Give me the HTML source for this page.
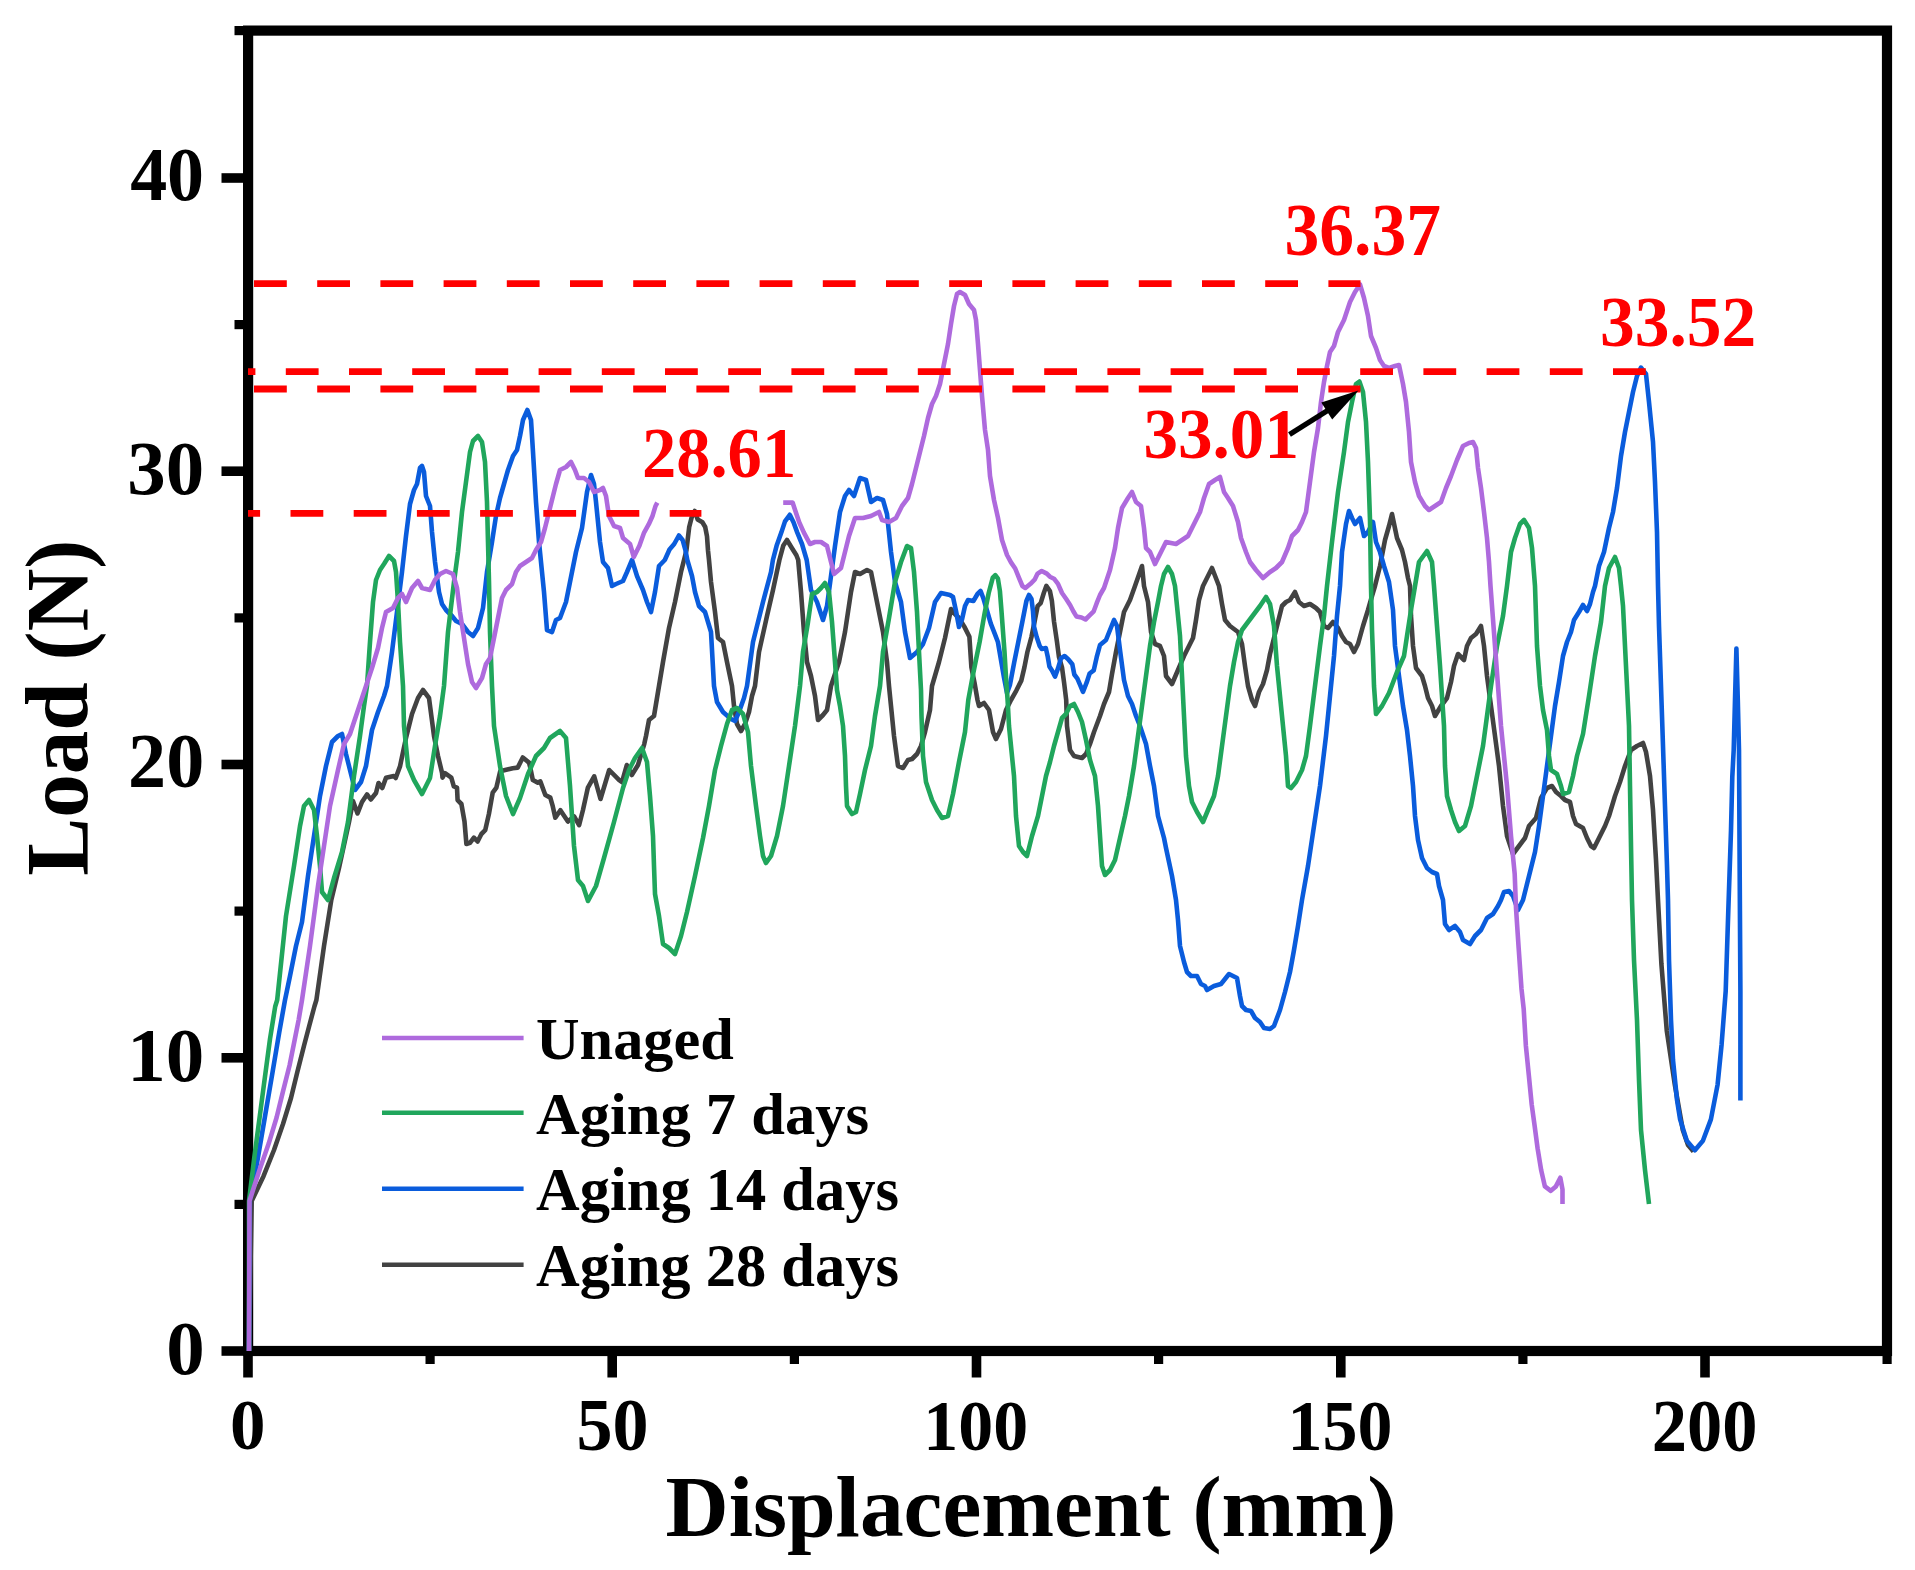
<!DOCTYPE html><html><head><meta charset="utf-8"><style>html,body{margin:0;padding:0;background:#fff;overflow:hidden}svg{display:block}</style></head><body><svg width="1915" height="1570" viewBox="0 0 1915 1570">
<rect width="100%" height="100%" fill="#fff"/>
<defs><clipPath id="pc"><rect x="248" y="30" width="1639" height="1321"/></clipPath></defs>
<rect x="248.1" y="30.6" width="1638.9" height="1320.4" fill="none" stroke="#000" stroke-width="10.2"/><line x1="221.5" y1="1351.0" x2="248" y2="1351.0" stroke="#000" stroke-width="9.6"/><line x1="234.5" y1="1204.4" x2="248" y2="1204.4" stroke="#000" stroke-width="9.2"/><line x1="221.5" y1="1057.8" x2="248" y2="1057.8" stroke="#000" stroke-width="9.6"/><line x1="234.5" y1="911.1" x2="248" y2="911.1" stroke="#000" stroke-width="9.2"/><line x1="221.5" y1="764.5" x2="248" y2="764.5" stroke="#000" stroke-width="9.6"/><line x1="234.5" y1="617.9" x2="248" y2="617.9" stroke="#000" stroke-width="9.2"/><line x1="221.5" y1="471.2" x2="248" y2="471.2" stroke="#000" stroke-width="9.6"/><line x1="234.5" y1="324.6" x2="248" y2="324.6" stroke="#000" stroke-width="9.2"/><line x1="221.5" y1="178.0" x2="248" y2="178.0" stroke="#000" stroke-width="9.6"/><line x1="234.5" y1="30.6" x2="248" y2="30.6" stroke="#000" stroke-width="9.2"/><line x1="248.0" y1="1351" x2="248.0" y2="1377.5" stroke="#000" stroke-width="9.6"/><line x1="430.1" y1="1351" x2="430.1" y2="1364" stroke="#000" stroke-width="9.2"/><line x1="612.2" y1="1351" x2="612.2" y2="1377.5" stroke="#000" stroke-width="9.6"/><line x1="794.4" y1="1351" x2="794.4" y2="1364" stroke="#000" stroke-width="9.2"/><line x1="976.5" y1="1351" x2="976.5" y2="1377.5" stroke="#000" stroke-width="9.6"/><line x1="1158.6" y1="1351" x2="1158.6" y2="1364" stroke="#000" stroke-width="9.2"/><line x1="1340.8" y1="1351" x2="1340.8" y2="1377.5" stroke="#000" stroke-width="9.6"/><line x1="1522.9" y1="1351" x2="1522.9" y2="1364" stroke="#000" stroke-width="9.2"/><line x1="1705.0" y1="1351" x2="1705.0" y2="1377.5" stroke="#000" stroke-width="9.6"/><line x1="1887.1" y1="1351" x2="1887.1" y2="1364" stroke="#000" stroke-width="9.2"/>
<path d="M249 1351 L251.7 1201 L263.5 1176.2 L274 1150 L283 1124 L291 1098 L297.4 1071.8 L304 1045.7 L309.2 1026 L314.4 1006.5 L316.4 1000 L324 946 L331.3 900 L339 868 L349 822 L353 801 L357.5 813.5 L362 802 L367 794.4 L370.8 799.5 L376 793 L378.5 783 L382.3 788 L386 777.8 L393.8 776 L395.7 778 L400 766.4 L406 738 L412 714 L418 698 L423 690 L429 698 L434 736 L438 756 L442 772.6 L442.5 777.6 L445 773.2 L451.3 777.6 L453.8 786.4 L457 787.6 L457.6 800.2 L461.4 804 L464.5 821.5 L466.4 844 L470 842.8 L473.9 837.7 L477.6 841.5 L481.4 834 L485.2 830.2 L488.9 814 L492.7 792.6 L496.4 787.6 L500.2 771.3 L505.2 770 L512.7 768.2 L517.7 767.6 L522.8 757.5 L529 762.6 L530.3 767.6 L532.8 780 L537.8 782.6 L540.3 781.4 L545.3 795 L550.3 797.6 L552.8 806.4 L555.3 817.7 L560.4 810.2 L567.9 821.5 L574.1 816.4 L579.1 825.2 L582.9 810.2 L587.9 787.6 L594.2 776.3 L600.5 799 L609.2 770 L619.2 780.1 L622 782 L626.8 765 L631.8 775 L638 765 L644.3 743.8 L646 736 L649 720 L654 716 L657 698 L659 686 L663 662 L669 628 L675 602 L681 572 L686.4 550.5 L689.2 527 L691.6 517.6 L694.8 511 L697.7 519.5 L702.4 522.3 L705.2 527 L707 536.4 L708 550.5 L709 560 L711 582 L715 612 L718 638 L723 642 L727 662 L732 686 L734 706 L737 724 L741 731 L745 724 L749 712 L752 696 L755 686 L759 652 L767 616 L773 590 L779.4 560 L783.2 545.8 L787 540 L791.7 547.7 L796.4 555.2 L798.2 560 L801 592 L804 632 L807 662 L811 676 L813 686 L815 696 L818 720 L823 715 L827 710 L831 686 L839 662 L845 632 L851 592 L855 572 L860 574 L867 570 L871 572 L875 592 L879 612 L883 632 L887 662 L889 686 L891 706 L894 736 L898 766 L903 768 L908 760 L912 759 L917 754 L921 746 L925 732 L930 710 L932 686 L939 662 L945 638 L951 609 L953 612 L959 618 L964.3 626.6 L969.4 636.8 L970.4 652 L971.4 667.4 L974.5 682.7 L977.5 700 L979 706 L984 703 L989 710 L993 732 L996 739 L1001 729 L1006 710 L1011 700 L1016.2 690.8 L1021.3 680.6 L1024.4 667.4 L1027.4 652 L1031.5 636.8 L1034.6 621.5 L1037.6 606.2 L1040.7 603.2 L1043.8 593 L1046.3 585.9 L1049.9 591 L1051.9 601 L1054 621.5 L1057 642 L1059 657.2 L1062 667.4 L1064.1 682.7 L1066.2 700 L1067 726 L1070 750 L1074 756 L1082 758 L1086 754 L1090 744 L1094 732 L1100 716 L1104 704 L1109 692 L1112 674 L1116 652 L1120 632 L1124 612 L1130 600 L1135 586 L1142 566 L1144 586 L1148 602 L1151 632 L1155 644 L1160 646 L1164 656 L1166 676 L1172 684 L1178 670 L1184 656 L1188 648 L1193 638 L1196 620 L1199 600 L1203 586 L1212 568 L1219 586 L1222 604 L1225 620 L1230 626 L1238 632 L1242 644 L1245 666 L1248 686 L1252 700 L1255 706 L1259 692 L1263 684 L1267 670 L1270 654 L1274 638 L1278 622 L1282 606 L1286 602 L1290 600 L1295 592 L1299 602 L1304 606 L1310 604 L1316 608 L1320 612 L1324 626 L1328 628 L1333 622 L1338 628 L1342 636 L1346 642 L1350 644 L1354 652 L1358 644 L1363 626 L1368 610 L1372 596 L1375 586 L1380 566 L1385 540 L1389 526 L1392 514 L1397 538 L1402 550 L1405 562 L1408 578 L1410 586 L1411 616 L1413 646 L1416 668 L1422 676 L1425 686 L1428 698 L1432 706 L1435 716 L1441 706 L1447 698 L1451 682 L1454 666 L1458 654 L1464 660 L1467 646 L1471 638 L1476 634 L1481 626 L1484 646 L1487 676 L1491 706 L1495 736 L1499 766 L1503 806 L1507 836 L1513 854 L1519 846 L1525 838 L1529 826 L1536 818 L1541 798 L1547 788 L1552 786 L1556 792 L1561 796 L1565 800 L1570 802 L1573 816 L1576 824 L1583 828 L1587 838 L1591 846 L1594 848 L1599 838 L1605 826 L1609 816 L1615 796 L1620 782 L1625 766 L1631 750 L1637 746 L1643 743 L1646 752 L1650 776 L1653 810 L1656 860 L1658 900 L1661.4 964 L1666.8 1031 L1674.8 1084.6 L1682.8 1130 L1688 1145 L1693.5 1151.5" fill="none" stroke="#424242" stroke-width="4.6" stroke-linejoin="round" stroke-linecap="butt"/><path d="M249 1351 L249.8 1199.7 L257 1163 L264.8 1117.5 L272.6 1071.8 L279.2 1032.6 L285 1000 L290 976 L296 946 L302 922 L308 876 L314 836 L320 796 L326 766 L332 742 L338 736 L342 734 L346 754 L350 770 L355 790 L361 782 L366 766 L372 730 L378 712 L384 696 L387 686 L392 652 L397 612 L402 572 L406 536 L410 504 L414 490 L417 484 L420 468 L422 466 L424 472 L426 496 L430 506 L432 532 L435 562 L439 592 L442 604 L446 610 L452 616 L456 621 L462 624 L468 632 L473 636 L478 628 L483 608 L487 572 L492 542 L496 516 L500 498 L504 484 L508 470 L513 456 L517 450 L520 436 L523 420 L527.4 410 L531 420 L533 452 L536 502 L539 542 L541 562 L544 592 L547 630 L552 632 L556 620 L560 618 L566 602 L570 582 L576 552 L582 528 L587 492 L591 475 L594 484 L596 502 L600 542 L603 562 L608 568 L612 586 L616 584 L623 581 L627 572 L632 560 L637 576 L643 590 L647 602 L651 612 L655 592 L659 566 L664.8 560 L669.5 549.5 L674.2 544 L678.9 535.5 L682.6 540 L685.5 550.5 L687.3 560 L692 576 L695 592 L699 606 L705 612 L711 632 L714 686 L717 702 L723 712 L731 719 L735 721 L739 712 L744 698 L747 686 L753 642 L763 602 L771 572 L772.9 560 L776.6 545.8 L781.3 532.6 L785 521.4 L789.8 514.8 L793.5 522.3 L797.3 532.6 L802 544 L806.7 560 L811 590 L817 602 L823 620 L827 606 L831 576 L835 546 L840 512 L845 496 L849 490 L854 496 L860 478 L866 480 L871 502 L877 498 L883 500 L887 514 L891 552 L895 582 L901 602 L905 632 L910 658 L917 652 L923 644 L929 628 L935 602 L941 593 L950 595 L953 597 L956 611 L959 627 L962 619.5 L965 606 L968 600 L973.4 601 L977.5 594 L980.6 591 L983.6 599 L987.7 613 L990.8 623.6 L994.8 633.8 L997.9 642 L1001 660 L1004 677.6 L1007 693 L1010 684.7 L1014.2 662.3 L1018.3 642 L1022.4 621.5 L1026.4 601 L1029 595 L1031.5 599 L1033 611.3 L1034 626.6 L1036.6 636.8 L1039.7 646 L1041.7 649 L1045.8 648 L1047.8 657 L1049.4 666.4 L1052 670.4 L1055 676.6 L1058 668.4 L1061 658.2 L1064.6 656 L1068.2 659.2 L1072.3 664.3 L1074.3 674.5 L1077.4 678.6 L1080.4 685.7 L1083 691.8 L1086.6 682.7 L1089.6 673.5 L1093.7 670.4 L1096.7 657.2 L1100 645 L1106 640 L1110 630 L1114 620 L1117 626 L1120 650 L1124 680 L1128 696 L1132 704 L1136 716 L1140 726 L1146 744 L1150 766 L1154 786 L1158 816 L1164 838 L1166 848 L1172 876 L1176 900 L1178 920 L1180 946 L1184 962 L1187 972 L1191 976 L1197 976 L1201 984 L1205 986 L1207 990 L1214 986 L1221 984 L1229 974 L1237 978 L1240 996 L1242 1006 L1246 1010 L1251 1011 L1255 1018 L1260 1022 L1264 1028 L1270 1029 L1274 1026 L1280 1010 L1285 992 L1290 972 L1294 950 L1298 926 L1302 900 L1308 866 L1314 826 L1320 786 L1326 736 L1330 696 L1334 656 L1337 616 L1340 586 L1342 552 L1346 524 L1349 511 L1352 518 L1355 524 L1360 518 L1364 536 L1368 532 L1373 522 L1376 542 L1380 552 L1384 566 L1389 582 L1393 610 L1395 646 L1399 676 L1403 706 L1407 730 L1410 756 L1413 786 L1415 816 L1418 840 L1422 858 L1427 868 L1432 872 L1437 874 L1439 886 L1443 900 L1445 924 L1449 930 L1455 926 L1460 932 L1463 940 L1470 944 L1475 936 L1481 930 L1487 918 L1493 914 L1498 906 L1501 900 L1504 892 L1509 891 L1513 896 L1518 910 L1523 900 L1529 876 L1535 852 L1539 826 L1543 796 L1547 766 L1551 736 L1555 706 L1559 682 L1563 656 L1567 642 L1571 632 L1574 620 L1579 612 L1583 605 L1587 611 L1590 604 L1593 592 L1595 586 L1599 566 L1604 552 L1609 528 L1613 512 L1617 488 L1621 456 L1625 432 L1629 412 L1633 392 L1637 376 L1641 367.6 L1646 374 L1649 402 L1653 442 L1655 482 L1657 532 L1658 586 L1659 626 L1661 686 L1663 746 L1665 806 L1667 866 L1668 900 L1669 960 L1671 1020 L1673 1060 L1677 1100 L1680.1 1119.4 L1686.8 1140.8 L1694.9 1150.2 L1702.9 1140.8 L1710.9 1119.4 L1717.6 1084.6 L1721.6 1044.4 L1725.7 991 L1728.3 910.6 L1731 830.3 L1732.3 776.8 L1733.7 750 L1735 700 L1736.4 648.5 L1737.8 700 L1739 750 L1739.6 857 L1740.4 991 L1740.4 1100.6" fill="none" stroke="#0a5cdc" stroke-width="4.6" stroke-linejoin="round" stroke-linecap="butt"/><path d="M249 1351 L249 1201 L254.4 1156.7 L259.6 1117.5 L264.8 1078 L270 1039 L275.2 1006.5 L277.2 1000 L286 916 L294 866 L300 826 L304 806 L309 800 L314 810 L317 836 L320 866 L322 892 L328 900 L334 878 L342 852 L348 822 L354 776 L360 736 L364 706 L367 686 L370 642 L373 602 L376 580 L380 570 L384 564 L389 556 L394 561 L396 572 L398 602 L400 642 L403 686 L404 726 L408 766 L414 780 L422 794 L430 778 L435 746 L440 716 L444 686 L448 632 L454 582 L458 552 L462 512 L466 482 L470 452 L473 441 L478 436 L482 442 L485 462 L487 502 L488 542 L489 582 L490 632 L492 686 L494 726 L500 766 L506 796 L513 814 L520 798 L528 774 L536 756 L544 748 L550 738 L560 731 L566 738 L570 786 L574 846 L578 880 L583 886 L588 901 L596 886 L604 858 L614 822 L623 788 L629 770 L635 758 L642 748 L647 762 L650 796 L653 836 L654 866 L655 894 L659 916 L663 944 L669 948 L675 954 L681 936 L687 912 L695 876 L703 838 L709 806 L715 770 L721 746 L727 724 L732 710 L737 708 L743 714 L748 732 L751 766 L756 806 L760 836 L763 856 L766 863 L771 856 L777 836 L783 806 L789 766 L795 726 L800 686 L803 652 L808 622 L812 594 L817 592 L821 588 L825 583 L829 592 L832 622 L835 662 L837 690 L840 706 L843 726 L845 756 L846 786 L847 806 L852 814 L856 812 L860 794 L865 770 L871 746 L875 716 L880 686 L883 652 L889 618 L895 582 L901 562 L907 546 L911 548 L914 572 L917 612 L919 652 L921 690 L921.5 716 L923 756 L926 782 L932 800 L937 810 L942 818 L948 816 L953 794 L959 762 L965 732 L968.3 700 L973.4 672.5 L979.6 642 L984.6 613.4 L988.7 593 L992.8 577.7 L995.3 575.2 L997.9 578.7 L999.9 591 L1001.5 611.3 L1003 631.7 L1004.5 652 L1006 677.6 L1007.6 700 L1009 726 L1011 746 L1014 776 L1016 816 L1019 846 L1023 852 L1027 856 L1032 836 L1038 816 L1042 796 L1046 776 L1050 762 L1054 746 L1058 732 L1062 718 L1066 714 L1070 706 L1074 704 L1078 712 L1082 722 L1086 740 L1090 760 L1095 776 L1098 806 L1100 836 L1102 866 L1105 875 L1110 870 L1115 860 L1120 838 L1125 816 L1129 796 L1134 766 L1138 736 L1142 706 L1146 676 L1150 646 L1154 622 L1158 602 L1161 586 L1164 574 L1168 567 L1172 574 L1175 586 L1177 606 L1180 636 L1182 676 L1184 716 L1186 756 L1189 786 L1192 802 L1197 812 L1203 822 L1208 810 L1214 796 L1218 776 L1222 746 L1226 716 L1230 686 L1234 662 L1238 642 L1242 630 L1248 622 L1254 614 L1260 606 L1266 597 L1270 604 L1274 626 L1277 666 L1280 696 L1283 726 L1286 756 L1288 786 L1291 788 L1296 782 L1302 770 L1306 756 L1310 726 L1315 686 L1320 646 L1324 616 L1327 586 L1332 542 L1338 492 L1344 452 L1348 422 L1352 402 L1356 384 L1359.4 381.5 L1363 392 L1366 422 L1368 462 L1370 520 L1371 586 L1372 630 L1373 656 L1374 686 L1376 714 L1382 706 L1389 693 L1397 672 L1404 656 L1407 636 L1411 610 L1415 586 L1419 562 L1427 551 L1432 562 L1434 586 L1437 626 L1440 666 L1442 696 L1444 726 L1445 766 L1447 796 L1451 810 L1455 822 L1459 831 L1465 826 L1471 806 L1477 776 L1483 746 L1487 716 L1491 686 L1497 646 L1503 616 L1507 586 L1511 552 L1515 538 L1520 524 L1524 520 L1529 528 L1532 548 L1535 586 L1537 646 L1540 686 L1543 710 L1547 730 L1549 756 L1551 770 L1557 774 L1561 786 L1563 794 L1569 792 L1573 776 L1577 756 L1583 734 L1589 696 L1595 656 L1601 622 L1605 586 L1609 568 L1615 557 L1619 568 L1621 586 L1623 606 L1625 646 L1627 686 L1629 726 L1630 786 L1631 846 L1632 900 L1634 960 L1637 1020 L1639 1080 L1641 1130 L1645 1170 L1649 1204" fill="none" stroke="#20a65c" stroke-width="4.6" stroke-linejoin="round" stroke-linecap="butt"/><path d="M249 1351 L249.5 1201 L259.6 1169.7 L268.7 1143.6 L276.6 1117.5 L283 1091.4 L289.6 1065.3 L294.8 1039.2 L298.7 1019.6 L302 1000 L310 946 L318 886 L324 846 L330 806 L338 770 L344 744 L350 734 L356 716 L362 698 L366 686 L372 668 L378 648 L382 628 L386 612 L393 608 L398 598 L402 594 L406 602 L412 588 L418 581 L422 588 L430 590 L435 580 L440 574 L446 571 L453 574 L457 588 L460 612 L464 638 L468 664 L472 682 L476 688 L482 678 L486 664 L490 658 L494 638 L498 618 L502 598 L506 590 L512 584 L516 572 L520 566 L526 562 L532 558 L536 550 L541 542 L545 528 L549 512 L552 500 L556 484 L560 470 L566 467 L571 462 L575 470 L578 478 L584 478 L589 482 L594 492 L600 490 L603 488 L606 496 L609 516 L614 526 L620 528 L623 538 L630 544 L633.8 557 L639.4 545.8 L644.1 532.6 L648.8 524.2 L652.6 515.7 L655.4 506.3 L657.3 502.6 M783.2 502.6 L792.6 502.6 L795.4 511 L799.2 522.3 L803.9 532.6 L810 544 L815 542 L821 542 L827 546 L831 562 L834 574 L841 568 L845 552 L849 536 L855 518 L863 518 L871 516 L879 512 L882 520 L889 522 L896 518 L902 506 L908 498 L912 484 L916 468 L920 452 L924 436 L928 418 L932 404 L936 396 L940 384 L944 364 L948 344 L951 324 L954 306 L957 294 L960 292 L965 295 L969 304 L974 310 L976 320 L978 344 L980 370 L982 396 L985 430 L988 450 L990 476 L994 500 L998 518 L1002 540 L1007 555 L1011 562.4 L1015.2 568.5 L1019.3 578.7 L1022.4 586 L1025.4 588 L1030.5 583.8 L1034.6 579.7 L1037.6 573.6 L1041.7 571 L1046.8 573.6 L1049.9 576.7 L1054 578.7 L1058 583.8 L1062 593 L1066.2 599 L1070.2 605.2 L1073.3 611.3 L1076.4 616.4 L1081.5 617.5 L1085.5 619.5 L1089.6 615.4 L1093.7 611.3 L1096.7 603.2 L1100 595 L1104 588 L1110 570 L1115 548 L1118 528 L1122 508 L1128 498 L1132 492 L1136 502 L1141 506 L1144 528 L1146 548 L1150 552 L1155 564 L1160 554 L1166 542 L1176 544 L1182 540 L1188 536 L1194 524 L1200 512 L1204 498 L1209 484 L1215 480 L1220 477 L1224 492 L1228 498 L1233 506 L1238 522 L1241 538 L1246 552 L1250 562 L1256 570 L1263 578 L1270 572 L1276 568 L1282 562 L1288 548 L1292 536 L1298 530 L1302 522 L1306 512 L1310 482 L1314 452 L1318 428 L1321 402 L1324 382 L1327 366 L1330 352 L1334 346 L1338 332 L1344 320 L1350 302 L1355 292 L1360 284.5 L1364 298 L1368 316 L1371 336 L1376 348 L1380 360 L1384 366 L1389 368 L1395 366 L1399 365 L1403 384 L1406 402 L1409 432 L1411 462 L1415 482 L1419 496 L1425 506 L1429 510 L1435 506 L1441 502 L1446 488 L1451 476 L1457 460 L1463 446 L1469 443 L1473 442 L1476 448 L1478 468 L1481 488 L1484 512 L1487 538 L1489 562 L1490.5 586 L1495 646 L1501 726 L1507 786 L1511 836 L1514.7 874 L1516 908 L1518.7 948.6 L1521.5 989 L1523.7 1009 L1525.9 1046 L1528.8 1075 L1531.7 1104.5 L1534.7 1126.4 L1537.6 1148.4 L1541.2 1170.3 L1544.9 1186.4 L1550.8 1190.8 L1555.9 1186.4 L1560.3 1177.7 L1562.5 1189.4 L1562.5 1204" fill="none" stroke="#ae6add" stroke-width="4.6" stroke-linejoin="round" stroke-linecap="butt"/>
<g clip-path="url(#pc)"><line x1="254" y1="283.7" x2="1360.5" y2="283.7" stroke="#ff0000" stroke-width="6.8" stroke-dasharray="32.8 30.4"/><line x1="222.6" y1="371.6" x2="1646" y2="371.6" stroke="#ff0000" stroke-width="6.8" stroke-dasharray="32.8 30.4"/><line x1="254" y1="389.0" x2="1360.5" y2="389.0" stroke="#ff0000" stroke-width="6.8" stroke-dasharray="32.8 30.4"/><line x1="227.3" y1="513.3" x2="701.4" y2="513.3" stroke="#ff0000" stroke-width="6.8" stroke-dasharray="32.8 30.4"/></g>
<line x1="1289.5" y1="434.5" x2="1330" y2="409" stroke="#000" stroke-width="5.2"/>
<polygon points="1358.5,390.5 1321.3,402.4 1332.2,419.6" fill="#000"/>
<text transform="matrix(1.01250 0 0 1.00392 166.16 1374.00)" x="0" y="0" font-family="'Liberation Serif', serif" font-weight="bold" font-size="76" >0</text>
<text transform="matrix(1.01343 0 0 1.01373 127.22 1080.59)" x="0" y="0" font-family="'Liberation Serif', serif" font-weight="bold" font-size="76" >10</text>
<text transform="matrix(1.00143 0 0 1.02549 128.10 787.37)" x="0" y="0" font-family="'Liberation Serif', serif" font-weight="bold" font-size="76" >20</text>
<text transform="matrix(1.01143 0 0 0.99804 127.37 493.60)" x="0" y="0" font-family="'Liberation Serif', serif" font-weight="bold" font-size="76" >30</text>
<text transform="matrix(0.97361 0 0 1.00980 130.13 200.39)" x="0" y="0" font-family="'Liberation Serif', serif" font-weight="bold" font-size="76" >40</text>
<text transform="matrix(1.00000 0 0 1.00213 230.00 1449.40)" x="0" y="0" font-family="'Liberation Serif', serif" font-weight="bold" font-size="71" >0</text>
<text transform="matrix(1.01538 0 0 1.02766 576.55 1450.00)" x="0" y="0" font-family="'Liberation Serif', serif" font-weight="bold" font-size="71" >50</text>
<text transform="matrix(0.98469 0 0 1.01277 923.29 1449.70)" x="0" y="0" font-family="'Liberation Serif', serif" font-weight="bold" font-size="71" >100</text>
<text transform="matrix(0.98469 0 0 1.01277 1287.49 1449.70)" x="0" y="0" font-family="'Liberation Serif', serif" font-weight="bold" font-size="71" >150</text>
<text transform="matrix(0.99307 0 0 1.03191 1651.72 1450.50)" x="0" y="0" font-family="'Liberation Serif', serif" font-weight="bold" font-size="71" >200</text>
<text transform="matrix(1.00513 0 0 0.99747 665.49 1536.05)" x="0" y="0" font-family="'Liberation Serif', serif" font-weight="bold" font-size="87" >Displacement (mm)</text>
<text transform="matrix(0 -0.97811 1.01000 0 86.50 875.86)" x="0" y="0" font-family="'Liberation Serif', serif" font-weight="bold" font-size="89">Load (N)</text>
<line x1="382" y1="1038" x2="523.6" y2="1038" stroke="#ae6add" stroke-width="4.6"/>
<text transform="matrix(0.97313 0 0 0.96279 536.05 1059.40)" x="0" y="0" font-family="'Liberation Serif', serif" font-weight="bold" font-size="62" >Unaged</text>
<line x1="382" y1="1112.7" x2="523.6" y2="1112.7" stroke="#20a65c" stroke-width="4.6"/>
<text transform="matrix(0.97640 0 0 0.96744 536.02 1134.00)" x="0" y="0" font-family="'Liberation Serif', serif" font-weight="bold" font-size="62" >Aging 7 days</text>
<line x1="382" y1="1188.7" x2="523.6" y2="1188.7" stroke="#0a5cdc" stroke-width="4.6"/>
<text transform="matrix(0.97568 0 0 0.97674 536.02 1210.00)" x="0" y="0" font-family="'Liberation Serif', serif" font-weight="bold" font-size="62" >Aging 14 days</text>
<line x1="382" y1="1264.7" x2="523.6" y2="1264.7" stroke="#424242" stroke-width="4.6"/>
<text transform="matrix(0.97568 0 0 0.98605 536.02 1286.40)" x="0" y="0" font-family="'Liberation Serif', serif" font-weight="bold" font-size="62" >Aging 28 days</text>
<text transform="matrix(0.97935 0 0 1.04043 1284.56 255.40)" x="0" y="0" font-family="'Liberation Serif', serif" font-weight="bold" font-size="71" fill="#ff0000">36.37</text>
<text transform="matrix(0.97727 0 0 1.01064 1600.07 345.90)" x="0" y="0" font-family="'Liberation Serif', serif" font-weight="bold" font-size="71" fill="#ff0000">33.52</text>
<text transform="matrix(0.97320 0 0 1.02128 1143.48 457.60)" x="0" y="0" font-family="'Liberation Serif', serif" font-weight="bold" font-size="71" fill="#ff0000">33.01</text>
<text transform="matrix(0.96601 0 0 1.02128 641.90 477.30)" x="0" y="0" font-family="'Liberation Serif', serif" font-weight="bold" font-size="71" fill="#ff0000">28.61</text>
</svg></body></html>
